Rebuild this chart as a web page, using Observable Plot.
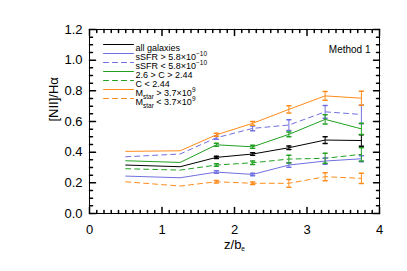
<!DOCTYPE html>
<html>
<head>
<meta charset="utf-8">
<script src="https://cdn.jsdelivr.net/npm/d3@7"></script>
<script src="https://cdn.jsdelivr.net/npm/@observablehq/plot@0.6"></script>
<style>
  html, body { margin: 0; padding: 0; background: #fff; }
</style>
</head>
<body>
<div id="chart"></div>
<script>
// ---- data ----
const zbe = [0.5, 1.25, 1.75, 2.25, 2.75, 3.25, 3.75];

const allGal     = [0.316, 0.305, 0.366, 0.388, 0.429, 0.479, 0.476];
const allGalErr  = [0, 0, 0.008, 0.008, 0.012, 0.022, 0.038];
const ssfrHi     = [0.244, 0.233, 0.270, 0.255, 0.316, 0.342, 0.357];
const ssfrHiErr  = [0, 0, 0.008, 0.008, 0.015, 0.020, 0.020];
const ssfrLo     = [0.370, 0.388, 0.494, 0.555, 0.577, 0.663, 0.646];
const ssfrLoErr  = [0, 0, 0.010, 0.016, 0.035, 0.041, 0.060];
const concHi     = [0.344, 0.333, 0.448, 0.435, 0.516, 0.614, 0.552];
const concHiErr  = [0, 0, 0.010, 0.010, 0.016, 0.030, 0.036];
const concLo     = [0.292, 0.283, 0.316, 0.331, 0.355, 0.360, 0.386];
const concLoErr  = [0, 0, 0.008, 0.012, 0.025, 0.033, 0.043];
const mstarHi    = [0.405, 0.409, 0.513, 0.588, 0.679, 0.767, 0.752];
const mstarHiErr = [0, 0, 0.010, 0.012, 0.023, 0.029, 0.046];
const mstarLo    = [0.207, 0.179, 0.207, 0.197, 0.197, 0.240, 0.229];
const mstarLoErr = [0, 0, 0.008, 0.008, 0.025, 0.026, 0.033];

const seriesLabels = [
  "all galaxies",
  "sSFR > 5.8×10^{−10}",
  "sSFR < 5.8×10^{−10}",
  "2.6 > C > 2.44",
  "C < 2.44",
  "M_{star} > 3.7×10^{9}",
  "M_{star} < 3.7×10^{9}"
];
const seriesValues = [allGal, ssfrHi, ssfrLo, concHi, concLo, mstarHi, mstarLo];
const seriesErrors = [allGalErr, ssfrHiErr, ssfrLoErr, concHiErr, concLoErr, mstarHiErr, mstarLoErr];
const seriesColors = ["#000000", "#7070e0", "#7070e0", "#22a022", "#22a022", "#ff8c1a", "#ff8c1a"];
const seriesDashed = [false, false, true, false, true, false, true];

const xTicks = [0, 1, 2, 3, 4];
const yTicks = [0, 0.2, 0.4, 0.6, 0.8, 1.0, 1.2];
const xMinor = d3.range(0, 41).map(i => i / 10).filter(v => !xTicks.includes(v));
const yMinor = d3.range(0, 25).map(i => +(i * 0.05).toFixed(2)).filter(v => !yTicks.some(t => Math.abs(t - v) < 1e-9));

const xTitle = "z/b_{e}";
const yTitle = "[NII]/Hα";
const methodLabel = "Method 1";

// ---- build ----
const FONT = "'Liberation Sans', Arial, Helvetica, sans-serif";
const lineShape = { draw(ctx, l) { ctx.moveTo(0, 0); ctx.lineTo(0, -l); } };

const rows = [];
const errRows = [];
seriesValues.forEach((vals, s) => {
  vals.forEach((v, i) => {
    rows.push({ s, x: zbe[i], y: v });
    const e = seriesErrors[s][i];
    if (e > 0) errRows.push({ s, x: zbe[i], lo: v - e, hi: v + e });
  });
});

function tickMarks(vals, len) {
  return [
    Plot.vector(vals, { y: d => d, frameAnchor: "left", rotate: 90, length: len, anchor: "start", shape: lineShape, stroke: "black" }),
    Plot.vector(vals, { y: d => d, frameAnchor: "right", rotate: -90, length: len, anchor: "start", shape: lineShape, stroke: "black" })
  ];
}
function tickMarksX(vals, len) {
  return [
    Plot.vector(vals, { x: d => d, frameAnchor: "bottom", rotate: 0, length: len, anchor: "start", shape: lineShape, stroke: "black" }),
    Plot.vector(vals, { x: d => d, frameAnchor: "top", rotate: 180, length: len, anchor: "start", shape: lineShape, stroke: "black" })
  ];
}

const marks = [];
// series lines
seriesValues.forEach((vals, s) => {
  marks.push(Plot.line(rows.filter(r => r.s === s), {
    x: "x", y: "y", stroke: seriesColors[s], strokeWidth: 1,
    strokeDasharray: seriesDashed[s] ? "5,4" : null
  }));
});
// error bars
seriesValues.forEach((vals, s) => {
  const er = errRows.filter(r => r.s === s);
  marks.push(Plot.ruleX(er, { x: "x", y1: "lo", y2: "hi", stroke: seriesColors[s], strokeWidth: 1 }));
  marks.push(Plot.vector(er, { x: "x", y: "lo", rotate: 90, length: 4, anchor: "middle", shape: lineShape, stroke: seriesColors[s] }));
  marks.push(Plot.vector(er, { x: "x", y: "hi", rotate: 90, length: 4, anchor: "middle", shape: lineShape, stroke: seriesColors[s] }));
});
// legend
seriesLabels.forEach((lab, s) => {
  const dy = 15 + 9 * s;
  marks.push(Plot.vector([0], { frameAnchor: "top-left", dx: 14, dy, rotate: 90, length: 30, anchor: "start", shape: lineShape,
    stroke: seriesColors[s], strokeWidth: 1, strokeDasharray: seriesDashed[s] ? "5,4" : null }));
  marks.push(Plot.text([lab], { text: d => d, frameAnchor: "top-left", dx: 46, dy, textAnchor: "start",
    fontSize: 9, fill: "black", className: "richtext" }));
});
// method label
marks.push(Plot.text([methodLabel], { text: d => d, frameAnchor: "top-right", dx: -9, dy: 16, textAnchor: "end", fontSize: 10, fill: "black" }));
// frame & ticks
marks.push(Plot.frame({ stroke: "black", strokeWidth: 1 }));
marks.push(...tickMarks(yTicks, 6), ...tickMarks(yMinor, 3));
marks.push(...tickMarksX(xTicks, 6), ...tickMarksX(xMinor, 3));
// tick labels
marks.push(Plot.axisX({ ticks: xTicks, tickSize: 0, tickPadding: 11, fontSize: 13, tickFormat: d => String(d), label: null }));
marks.push(Plot.axisY({ ticks: yTicks, tickSize: 0, tickPadding: 7, fontSize: 13, tickFormat: d3.format(".1f"), label: null }));
// axis titles
marks.push(Plot.text([xTitle], { text: d => d, frameAnchor: "bottom", dy: 35, fontSize: 13, fill: "black", className: "richtext" }));
marks.push(Plot.text([yTitle], { text: d => d, frameAnchor: "left", dx: -36, rotate: -90, fontSize: 13, fill: "black" }));

const chart = Plot.plot({
  width: 407,
  height: 271,
  marginLeft: 89,
  marginRight: 28,
  marginTop: 29,
  marginBottom: 58,
  x: { domain: [0, 4], axis: null },
  y: { domain: [0, 1.2], axis: null },
  style: { fontFamily: FONT, background: "white", color: "black", overflow: "visible" },
  marks
});

// rich text: ^{...} superscript, _{...} subscript
d3.select(chart).selectAll(".richtext text").each(function () {
  const el = d3.select(this);
  const str = this.textContent;
  if (!/[\^_]\{/.test(str)) return;
  const fs = parseFloat(el.attr("font-size") || getComputedStyle(this).fontSize || 10) || 10;
  el.text(null);
  const parts = str.split(/(\^\{[^}]*\}|_\{[^}]*\})/).filter(p => p !== "");
  let shift = 0;
  parts.forEach(p => {
    let target = 0, content = p, small = false;
    if (p.startsWith("^{")) { target = -0.42 * fs; content = p.slice(2, -1); small = true; }
    else if (p.startsWith("_{")) { target = 0.28 * fs; content = p.slice(2, -1); small = true; }
    const t = el.append("tspan").attr("dy", (target - shift).toFixed(2)).text(content);
    if (small) t.attr("font-size", (fs * 0.65).toFixed(2));
    shift = target;
  });
});

document.getElementById("chart").appendChild(chart);
</script>
</body>
</html>
